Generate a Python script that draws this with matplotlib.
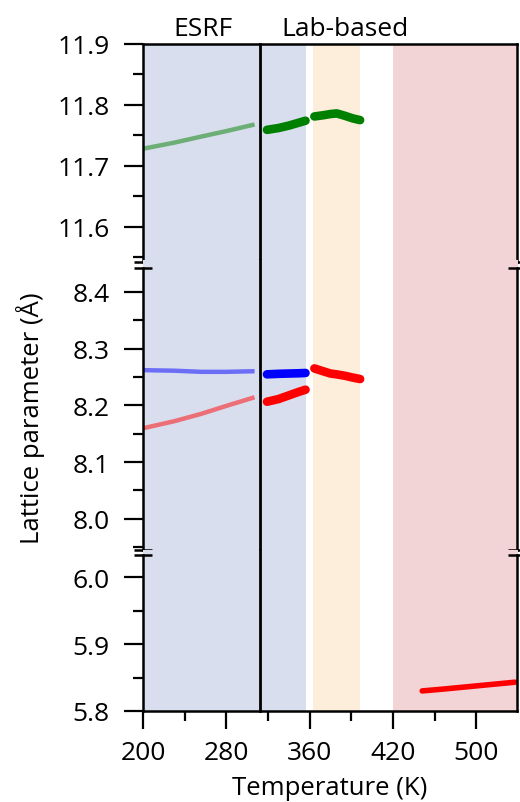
import numpy as np
import matplotlib.pyplot as plt

plt.rcParams['font.family'] = ['Open Sans', 'DejaVu Sans']

# temperature axis ticks (labels as printed on the axis)
temp_ticks = [200, 280, 360, 440, 520]
temp_labels = ['200', '280', '360', '420', '500']

# ESRF synchrotron data (faint lines)
esrf_T = [200, 230, 256, 280, 305]
esrf_c = [11.728, 11.738, 11.748, 11.757, 11.767]
esrf_a1 = [8.262, 8.261, 8.259, 8.259, 8.260]
esrf_a2 = [8.1595, 8.172, 8.185, 8.199, 8.213]

# lab-based data, first run
lab1_T = [319, 330, 340, 350, 356]
lab1_c = [11.759, 11.762, 11.766, 11.771, 11.774]
lab1_a1 = [8.2546, 8.2555, 8.256, 8.2565, 8.257]
lab1_a2 = [8.2063, 8.211, 8.2175, 8.224, 8.2275]

# lab-based data, second run
lab2_T = [364.5, 373, 380, 386, 394, 401, 408.4]
lab2_c = [11.781, 11.783, 11.785, 11.786, 11.782, 11.778, 11.775]
lab2_a = [8.265, 8.260, 8.256, 8.2545, 8.252, 8.249, 8.2463]

# high-temperature phase
hot_T = [468, 490, 510, 530, 557]
hot_a = [5.830, 5.833, 5.836, 5.839, 5.843]

# shaded temperature regions
regions = [(200, 356, '#d9deee'), (363, 408, '#fdeedb'), (439.5, 560, '#f2d3d6')]
split_T = 312.4

W, H = 520, 803
fig = plt.figure(figsize=(W / 100, H / 100), dpi=100)

def box(top, bottom):
    return [143 / W, (H - bottom) / H, (517 - 143) / W, (bottom - top) / H]

ax_top = fig.add_axes(box(45, 263))
ax_mid = fig.add_axes(box(269, 551))
ax_bot = fig.add_axes(box(556, 712))
axes = [ax_top, ax_mid, ax_bot]

ax_top.set_ylim(11.542, 11.9)
ax_mid.set_ylim(7.945, 8.442)
ax_bot.set_ylim(5.8, 6.033)

ax_top.set_yticks([11.6, 11.7, 11.8, 11.9])
ax_top.set_yticks(np.arange(11.55, 11.9, 0.1), minor=True)
ax_mid.set_yticks([8.0, 8.1, 8.2, 8.3, 8.4])
ax_mid.set_yticks(np.arange(7.95, 8.44, 0.1), minor=True)
ax_bot.set_yticks([5.8, 5.9, 6.0])
ax_bot.set_yticks([5.85, 5.95], minor=True)
ax_top.set_yticklabels(['11.6', '11.7', '11.8', '11.9'])
ax_mid.set_yticklabels(['8.0', '8.1', '8.2', '8.3', '8.4'])
ax_bot.set_yticklabels(['5.8', '5.9', '6.0'])

ext = [(-0.03, 1.0), (-0.03, 1.03), (0.0, 1.03)]
for ax, (lo, hi) in zip(axes, ext):
    ax.set_xlim(200, 559)
    for x0, x1, col in regions:
        ax.axvspan(x0, x1, ymin=lo, ymax=hi, color=col, lw=0, clip_on=False, zorder=0)
    ax.axvline(split_T, ymin=lo, ymax=hi, color='black', lw=2, clip_on=False, zorder=3)
    for s in ax.spines.values():
        s.set_linewidth(1.8)
    ax.spines['top'].set_visible(False)
    ax.spines['bottom'].set_visible(False)
    ax.tick_params(axis='y', which='major', length=14, width=1.6, pad=10, labelsize=19)
    ax.tick_params(axis='y', which='minor', length=7.5, width=1.6)
    ax.tick_params(axis='x', which='both', bottom=False, labelbottom=False)
    ax.set_facecolor('none')

ax_top.spines['top'].set_visible(True)
ax_bot.spines['bottom'].set_visible(True)
ax_bot.set_xticks(temp_ticks)
ax_bot.set_xticklabels(temp_labels)
ax_bot.set_xticks([240, 320, 400, 480], minor=True)
ax_bot.tick_params(axis='x', which='major', bottom=True, labelbottom=True,
                   length=13, width=1.6, pad=8, labelsize=19)
ax_bot.tick_params(axis='x', which='minor', bottom=True, length=7.5, width=1.6)

# axis break marks
break_kw = dict(marker='_', markersize=13, mew=1.8, color='black', clip_on=False, zorder=5)
for ax, ends in [(ax_top, [0]), (ax_mid, [0, 1]), (ax_bot, [1])]:
    for y in ends:
        ax.plot([0, 1], [y, y], ls='none', transform=ax.transAxes, **break_kw)

# faint ESRF curves
ax_top.plot(esrf_T, esrf_c, color='green', alpha=0.5, lw=3.2)
ax_mid.plot(esrf_T, esrf_a1, color='blue', alpha=0.5, lw=3.2)
ax_mid.plot(esrf_T, esrf_a2, color='red', alpha=0.5, lw=3.2)

# lab-based curves
thick = dict(lw=6.2, solid_capstyle='round', solid_joinstyle='round')
ax_top.plot(lab1_T, lab1_c, color='green', **thick)
ax_top.plot(lab2_T, lab2_c, color='green', **thick)
ax_mid.plot(lab1_T, lab1_a1, color='blue', **thick)
ax_mid.plot(lab1_T, lab1_a2, color='red', **thick)
ax_mid.plot(lab2_T, lab2_a, color='red', **thick)
ax_bot.plot(hot_T, hot_a, color='red', lw=4, solid_capstyle='round')

# region labels
hdr = ax_top.get_xaxis_transform()
ax_top.text(257.5, 1.015, 'ESRF', transform=hdr, ha='center', va='bottom', fontsize=19)
ax_top.text(393.5, 1.015, 'Lab-based', transform=hdr, ha='center', va='bottom', fontsize=19)

fig.text(330 / W, 1 - 789 / H, 'Temperature (K)', ha='center', va='center', fontsize=18.5)
fig.text(31 / W, 1 - 418 / H, 'Lattice parameter (Å)', ha='center', va='center',
         rotation=90, fontsize=18.5)

fig.savefig('out.png', dpi=100)
